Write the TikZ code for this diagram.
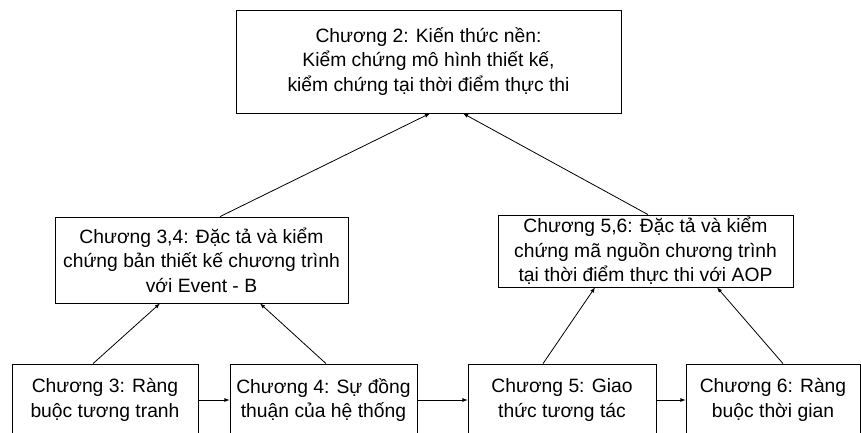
\documentclass[tikz,border=0pt]{standalone}
\usepackage{fontspec}
\setmainfont{Liberation Sans}
\usetikzlibrary{arrows}
\tikzset{
    >=latex % Default arrow tip
}
\tikzstyle{chap}=[
    draw,
    rectangle,
    align = center,
    inner sep = 0pt,
    font = \fontsize{19.3}{24.5}\selectfont
]

\begin{document}
\begin{tikzpicture}[x=1pt,y=-1pt,thick]
    \useasboundingbox (0,0) rectangle (861,432);
    \clip (0,0) rectangle (861,432);

    % top level
    \node [chap, minimum width=385, minimum height=103] (c2) at (428.5,61.5)
        {Chương 2: Kiến thức nền:\\Kiểm chứng mô hình thiết kế,\\kiểm chứng tại thời điểm thực thi};

    % middle level
    \node [chap, minimum width=293, minimum height=86] (c34) at (201.5,260)
        {Chương 3,4: Đặc tả và kiểm\\chứng bản thiết kế chương trình\\với Event - B};
    \node [chap, minimum width=295, minimum height=72] (c56) at (645.5,251)
        {Chương 5,6: Đặc tả và kiểm\\chứng mã nguồn chương trình\\tại thời điểm thực thi với AOP};

    % chapters
    \node [chap, minimum width=186, minimum height=72] (c3) at (105,400)
        {Chương 3: Ràng\\buộc tương tranh};
    \node [chap, minimum width=187, minimum height=72] (c4) at (323.5,400)
        {Chương 4: Sự đồng\\thuận của hệ thống};
    \node [chap, minimum width=188, minimum height=72] (c5) at (562,400)
        {Chương 5: Giao\\thức tương tác};
    \node [chap, minimum width=174, minimum height=72] (c6) at (773,400)
        {Chương 6: Ràng\\buộc thời gian};

    \draw [->] ([xshift=18.5]c34.north) -- ([xshift=1.5]c2.south);
    \draw [->] ([xshift=2.5]c56.north) -- ([xshift=34.5]c2.south);

    \draw [->] ([xshift=-12]c3.north) -- ([xshift=-41.5]c34.south);
    \draw [->] ([xshift=2.5]c4.north) -- ([xshift=58.5]c34.south);
    \draw [->] ([xshift=-19]c5.north) -- ([xshift=-50.5]c56.south);
    \draw [->] ([xshift=10]c6.north) -- ([xshift=71.5]c56.south);

    \draw [->] (c3) -- (c4);
    \draw [->] (c4) -- (c5);
    \draw [->] (c5) -- (c6);
\end{tikzpicture}
\end{document}
